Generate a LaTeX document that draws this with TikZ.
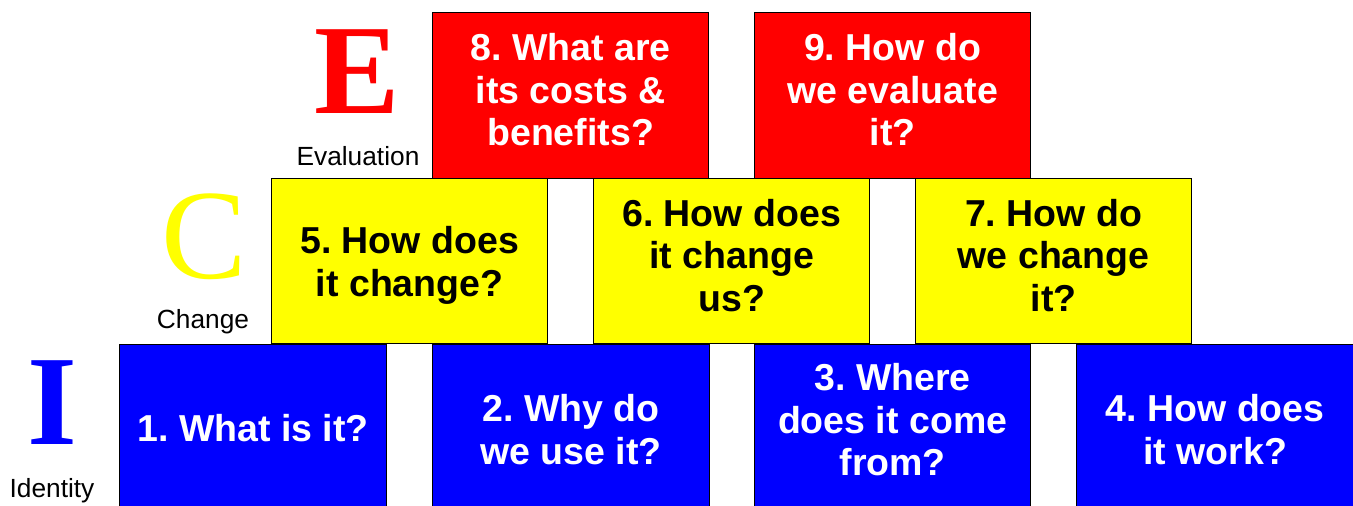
\documentclass[tikz,border=0pt]{standalone}
\usepackage{fontspec}
\setmainfont{Liberation Sans}
\newfontfamily\letterfont{Liberation Serif}
\frenchspacing
\begin{document}
\begin{tikzpicture}[x=1pt,y=-1pt,
  qbox/.style={draw=black, line width=1.3pt, anchor=north west, inner sep=0pt},
  idbox/.style={qbox, fill={rgb,255:red,0;green,0;blue,255}, minimum height=162pt},
  chbox/.style={qbox, fill={rgb,255:red,255;green,255;blue,0},
    minimum width=276pt, minimum height=165pt},
  evbox/.style={qbox, fill={rgb,255:red,255;green,0;blue,0},
    minimum width=276pt, minimum height=166pt},
  qtext/.style={inner sep=0pt, align=center, font=\fontsize{37.5}{42.5}\selectfont\bfseries},
  lighttext/.style={qtext, text=white},
  darktext/.style={qtext, text=black},
  bigletter/.style={font=\letterfont\fontsize{128}{128}\selectfont, inner sep=0pt, anchor=base},
  boldletter/.style={bigletter, font=\letterfont\bfseries\fontsize{128}{128}\selectfont},
  levellabel/.style={font=\fontsize{26.3}{26.3}\selectfont, inner sep=0pt, anchor=base}]
\useasboundingbox (0,0) rectangle (1353,506);
% level letters and captions
\node[boldletter, text={rgb,255:red,255;green,0;blue,0}] (E) at (357,113) {E};
\node[levellabel] (evl) at (358,165) {Evaluation};
\node[bigletter, text={rgb,255:red,255;green,255;blue,0}] (C) at (204,278) {C};
\node[levellabel] (chl) at (203,328) {Change};
\node[boldletter, text={rgb,255:red,0;green,0;blue,255}] (I) at (52,444) {I};
\node[levellabel] (idl) at (52,497) {Identity};
% identity row
\node[idbox, minimum width=267pt] (q1) at (119,344) {};
\node[idbox, minimum width=277pt] (q2) at (432,344) {};
\node[idbox, minimum width=276pt] (q3) at (754,344) {};
\node[idbox, minimum width=277pt] (q4) at (1076,344) {};
\node[lighttext] (t1) at ([yshift=-2pt]q1.center) {1. What is it?};
\node[lighttext] (t2) at ([yshift=-4pt]q2.center) {2. Why do\\we use it?};
\node[lighttext] (t3) at ([yshift=6pt]q3.center) {3. Where\\does it come\\from?};
\node[lighttext] (t4) at ([yshift=-4pt]q4.center) {4. How does\\it work?};
% change row
\node[chbox] (q5) at (271,178) {};
\node[chbox] (q6) at (593,178) {};
\node[chbox] (q7) at (915,178) {};
\node[darktext] (t5) at ([yshift=-4pt]q5.center) {5. How does\\it change?};
\node[darktext] (t6) at ([yshift=6pt]q6.center) {6. How does\\it change\\us?};
\node[darktext] (t7) at ([yshift=6pt]q7.center) {7. How do\\we change\\it?};
% evaluation row
\node[evbox] (q8) at (432,12) {};
\node[evbox] (q9) at (754,12) {};
\node[lighttext] (t8) at ([yshift=6pt]q8.center) {8. What are\\its costs \&\\benefits?};
\node[lighttext] (t9) at ([yshift=6pt]q9.center) {9. How do\\we evaluate\\it?};
\end{tikzpicture}
\end{document}
